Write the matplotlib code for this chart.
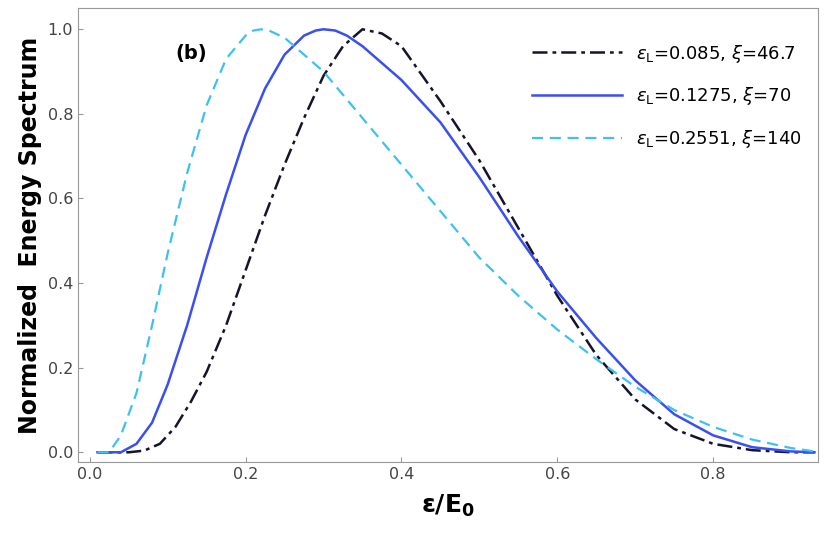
import matplotlib

matplotlib.use("Agg")
import matplotlib.pyplot as plt  # noqa: E402

X_BLACK = [0.01, 0.05, 0.07, 0.09, 0.11, 0.13, 0.15, 0.175, 0.20, 0.225, 0.25, 0.275, 0.30,
           0.325, 0.35, 0.375, 0.40, 0.45, 0.50, 0.55, 0.60, 0.65, 0.70, 0.75, 0.80, 0.85,
           0.90, 0.93]
Y_BLACK = [0.0, 0.0, 0.004, 0.02, 0.06, 0.12, 0.19, 0.30, 0.43, 0.56, 0.68, 0.79, 0.89,
           0.96, 1.0, 0.99, 0.96, 0.83, 0.69, 0.53, 0.37, 0.23, 0.125, 0.055, 0.02, 0.005,
           0.0, 0.0]

X_BLUE = [0.01, 0.04, 0.06, 0.08, 0.10, 0.125, 0.15, 0.175, 0.20, 0.225, 0.25, 0.275, 0.29,
          0.30, 0.315, 0.33, 0.35, 0.40, 0.45, 0.50, 0.55, 0.60, 0.65, 0.70, 0.75, 0.80,
          0.85, 0.90, 0.93]
Y_BLUE = [0.0, 0.0, 0.02, 0.07, 0.16, 0.30, 0.46, 0.61, 0.75, 0.86, 0.94, 0.985, 0.997,
          1.0, 0.997, 0.985, 0.96, 0.88, 0.78, 0.65, 0.51, 0.38, 0.27, 0.17, 0.09, 0.04,
          0.012, 0.002, 0.0]

X_CYAN = [0.01, 0.025, 0.04, 0.06, 0.08, 0.10, 0.125, 0.15, 0.175, 0.20, 0.21, 0.22, 0.23,
          0.25, 0.30, 0.35, 0.40, 0.45, 0.50, 0.55, 0.60, 0.65, 0.70, 0.75, 0.80, 0.85,
          0.90, 0.93]
Y_CYAN = [0.0, 0.0, 0.04, 0.14, 0.30, 0.47, 0.66, 0.82, 0.93, 0.985, 0.997, 1.0, 0.997,
          0.98, 0.90, 0.79, 0.68, 0.57, 0.46, 0.37, 0.29, 0.22, 0.155, 0.10, 0.06, 0.03,
          0.01, 0.002]

LABELS = [r"$\epsilon_{\rm L}$=0.085, $\xi$=46.7",
          r"$\epsilon_{\rm L}$=0.1275, $\xi$=70",
          r"$\epsilon_{\rm L}$=0.2551, $\xi$=140"]
XTICKS = [0.0, 0.2, 0.4, 0.6, 0.8]
YTICKS = [0.0, 0.2, 0.4, 0.6, 0.8, 1.0]

fig = plt.figure(figsize=(8.3, 5.41), dpi=100)
ax = fig.add_axes([0.094, 0.146, 0.892, 0.839])

ax.plot(X_BLACK, Y_BLACK, color="#14142a", lw=1.8, dashes=(6, 2, 1.5, 2), label=LABELS[0])
ax.plot(X_BLUE, Y_BLUE, color="#3a4ff0", lw=1.8, label=LABELS[1])
ax.plot(X_CYAN, Y_CYAN, color="#3ec0f0", lw=1.6, dashes=(5, 3), label=LABELS[2])

ax.set_xlim(-0.015, 0.935)
ax.set_ylim(-0.023, 1.05)
ax.set_xticks(XTICKS)
ax.set_yticks(YTICKS)
ax.set_xticklabels([f"{v:.1f}" for v in XTICKS])
ax.set_yticklabels([f"{v:.1f}" for v in YTICKS])
ax.tick_params(direction="in", labelsize=11.5, color="#999999", labelcolor="#444444")
for s in ax.spines.values():
    s.set_color("#999999")

ax.set_xlabel(r"$\mathbf{\epsilon/E_0}$", fontsize=18, labelpad=8)
ax.set_ylabel("Normalized  Energy Spectrum", fontsize=17, fontweight="bold")
ax.text(0.11, 0.93, "(b)", fontsize=14, fontweight="bold")

ax.legend(loc="upper right", fontsize=13, frameon=False, handlelength=5,
          labelspacing=1.15, bbox_to_anchor=(1.0, 0.96))

fig.savefig("out.png", dpi=100)
